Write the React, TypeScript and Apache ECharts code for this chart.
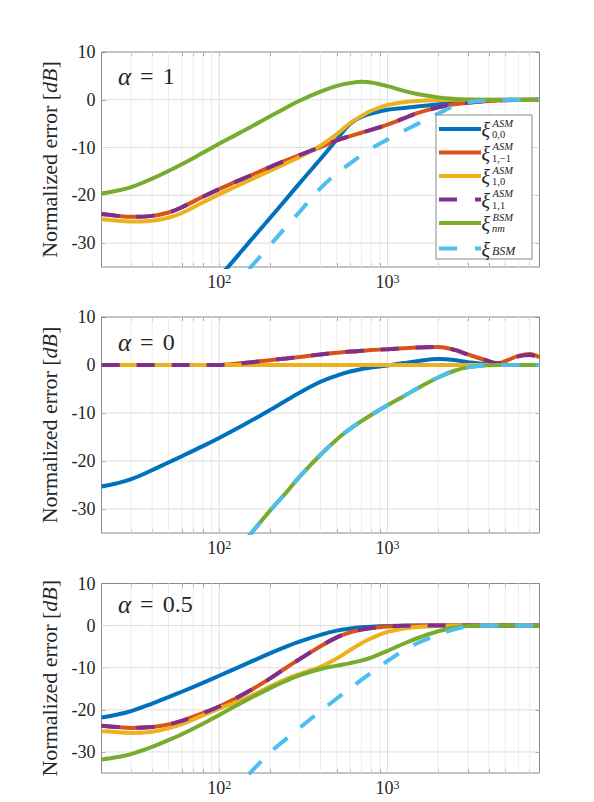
import React, { useEffect, useRef } from "react";
import * as echarts from "echarts";

// ---------- data ----------
const FREQ = [20, 25, 30, 40, 50, 60, 80, 100, 125, 150, 200, 250, 300, 400, 500, 600, 700, 800, 1000, 1250, 1500, 2000, 2500, 3000, 4000, 4500, 5000, 6000, 7000, 8000];
const N = null;

// alpha = 1
const A1_X00 = [N, N, N, N, N, N, N, -37.1, -33.2, -29.9, -24.8, -20.8, -17.5, -12.4, -8.3, -5.0, -3.6, -2.9, -2.1, -1.7, -1.4, -0.95, -0.55, -0.35, -0.12, -0.07, -0.03, 0, 0, 0];
const A1_X1M1 = [-23.9, -24.3, -24.5, -24.3, -23.6, -22.5, -20.3, -18.7, -17.2, -16.0, -14.1, -12.7, -11.6, -9.9, -8.5, -7.6, -6.9, -6.3, -5.2, -3.9, -2.8, -1.6, -0.95, -0.6, -0.25, -0.15, -0.1, -0.03, 0, 0];
const A1_X10 = [-25.0, -25.3, -25.5, -25.3, -24.7, -23.7, -21.5, -19.8, -18.2, -16.9, -14.9, -13.3, -12.0, -9.6, -7.2, -4.9, -3.4, -2.3, -1.1, -0.5, -0.25, -0.07, 0, 0, 0, 0, 0, 0, 0, 0];
const A1_X11 = [-23.9, -24.3, -24.5, -24.3, -23.6, -22.5, -20.3, -18.7, -17.2, -16.0, -14.1, -12.7, -11.6, -9.9, -8.5, -7.6, -6.9, -6.3, -5.2, -3.9, -2.8, -1.6, -0.95, -0.6, -0.25, -0.15, -0.1, -0.03, 0, 0];
const A1_NM = [-19.6, -19.0, -18.3, -16.5, -14.9, -13.5, -11.1, -9.2, -7.4, -5.9, -3.5, -1.65, -0.2, 1.7, 2.9, 3.5, 3.75, 3.6, 2.85, 1.85, 1.2, 0.5, 0.18, 0.06, 0, 0, 0, 0, 0, 0];
const A1_BSM = [N, N, N, N, N, N, N, N, N, -35.5, -30.5, -26.6, -23.5, -18.5, -15.4, -13.3, -11.6, -10.2, -8.3, -6.5, -5.1, -2.9, -1.3, -0.55, -0.1, -0.03, 0, 0, 0, 0];

// alpha = 0
const A0_X00 = [-25.3, -24.6, -23.8, -21.9, -20.3, -19.0, -16.9, -15.2, -13.4, -11.9, -9.4, -7.4, -5.8, -3.5, -2.2, -1.35, -0.85, -0.55, -0.1, 0.4, 0.8, 1.25, 1.05, 0.6, 0.08, 0.02, 0, 0, 0, 0];
const A0_X1M1 = [0, 0, 0, 0, 0, 0, 0, 0.02, 0.25, 0.5, 1.0, 1.35, 1.65, 2.2, 2.55, 2.8, 2.95, 3.1, 3.3, 3.5, 3.65, 3.75, 3.15, 2.2, 0.8, 0.35, 0.8, 1.9, 2.3, 1.6];
const A0_X10 = [0, 0, 0, 0, 0, 0, 0, 0, 0, 0, 0, 0, 0, 0, 0, 0, 0, 0, 0, 0, 0, 0, 0, 0, 0, 0, 0, 0, 0, 0];
const A0_X11 = [0, 0, 0, 0, 0, 0, 0, 0.02, 0.25, 0.5, 1.0, 1.35, 1.65, 2.2, 2.55, 2.8, 2.95, 3.1, 3.3, 3.5, 3.65, 3.75, 3.15, 2.2, 0.8, 0.35, 0.8, 1.8, 2.1, 1.4];
const A0_NM = [N, N, N, N, N, N, N, N, N, -35.7, -30.4, -26.6, -23.3, -18.7, -15.5, -13.3, -11.7, -10.4, -8.4, -6.5, -4.9, -2.6, -1.2, -0.5, -0.05, 0, 0, 0, 0, 0];
const A0_BSM = [N, N, N, N, N, N, N, N, N, -35.7, -30.4, -26.6, -23.3, -18.7, -15.5, -13.3, -11.7, -10.4, -8.4, -6.5, -4.9, -2.6, -1.2, -0.5, -0.05, 0, 0, 0, 0, 0];

// alpha = 0.5
const A5_X00 = [-21.8, -21.1, -20.3, -18.5, -17.0, -15.7, -13.6, -11.9, -10.2, -8.8, -6.6, -5.0, -3.8, -2.2, -1.2, -0.7, -0.4, -0.25, -0.1, -0.03, 0, 0, 0, 0, 0, 0, 0, 0, 0, 0];
const A5_X1M1 = [-23.8, -24.1, -24.3, -24.1, -23.5, -22.6, -20.8, -19.2, -17.3, -15.6, -12.6, -10.0, -8.0, -4.9, -2.8, -1.6, -0.95, -0.55, -0.2, -0.06, 0, 0, 0, 0, 0, 0, 0, 0, 0, 0];
const A5_X10 = [-25.1, -25.3, -25.5, -25.2, -24.4, -23.4, -21.3, -19.7, -18.2, -16.9, -14.5, -12.7, -11.5, -9.8, -7.8, -5.8, -4.2, -3.0, -1.5, -0.7, -0.35, -0.1, -0.02, 0, 0, 0, 0, 0, 0, 0];
const A5_X11 = [-23.8, -24.1, -24.3, -24.1, -23.5, -22.6, -20.8, -19.2, -17.3, -15.6, -12.6, -10.0, -8.0, -4.9, -2.8, -1.6, -0.95, -0.55, -0.2, -0.06, 0, 0, 0, 0, 0, 0, 0, 0, 0, 0];
const A5_NM = [-31.8, -31.2, -30.5, -28.8, -27.2, -25.8, -23.3, -21.2, -19.1, -17.4, -14.9, -13.1, -11.8, -10.3, -9.5, -8.9, -8.3, -7.6, -6.0, -4.3, -3.0, -1.35, -0.45, -0.1, 0, 0, 0, 0, 0, 0];
const A5_BSM = [N, N, N, N, N, N, N, N, N, -35.3, -30.2, -26.9, -24.3, -20.3, -17.3, -14.9, -12.9, -11.2, -8.4, -5.9, -4.2, -2.2, -0.9, -0.25, 0, 0, 0, 0, 0, 0];

const PANELS = [
  { label: "1", series: [A1_X00, A1_X1M1, A1_X10, A1_X11, A1_NM, A1_BSM] },
  { label: "0", series: [A0_X00, A0_X1M1, A0_X10, A0_X11, A0_NM, A0_BSM] },
  { label: "0.5", series: [A5_X00, A5_X1M1, A5_X10, A5_X11, A5_NM, A5_BSM] },
];

const SERIES_NAMES = ["ξ_{0,0}^{ASM}", "ξ_{1,-1}^{ASM}", "ξ_{1,0}^{ASM}", "ξ_{1,1}^{ASM}", "ξ_{nm}^{BSM}", "ξ_{BSM}"];
const SERIES_COLORS = ["#0072BD", "#D95319", "#EDB120", "#7E2F8E", "#77AC30", "#4DBEEE"];
const SERIES_DASHED = [false, false, false, true, false, true];
const LEG_SUP = ["ASM", "ASM", "ASM", "ASM", "BSM", ""];
const LEG_SUB = ["0,0", "1,\u22121", "1,0", "1,1", "nm", "BSM"];
const LEG_SUB_ITALIC = [false, false, false, false, true, true];

const X_MIN = 20;
const X_MAX = 8000;
const Y_MIN = -35;
const Y_MAX = 10;
const Y_TICKS = [-30, -20, -10, 0, 10];
const X_MAJOR = [100, 1000];
const X_MINOR = [30, 40, 50, 60, 70, 80, 90, 200, 300, 400, 500, 600, 700, 800, 900, 2000, 3000, 4000, 5000, 6000, 7000];
const Y_NAME = "Normalized error [{i|dB}]";

// ---------- layout / style ----------
const GRIDS = [
  { left: 101.5, top: 52, width: 438, height: 215 },
  { left: 101.5, top: 317, width: 438, height: 216 },
  { left: 101.5, top: 583.5, width: 438, height: 189.5 },
];
const ALPHA_POS = [76, 342, 604];
const LEG_BOX = { x: 436, y: 115, w: 96, h: 144 };
const LEG_ROWS = [129, 152.5, 176, 199.5, 223, 248.5];
const FONT = "Liberation Serif, serif";
const TXT = "#262626";
const BOX = "#8a8a8a";
const MAJOR_GRID = "#dedede";
const MINOR_GRID = "#eeeeee";
const DASH = [18, 17];
const LW = 4;

const lg = (v: number) => Math.log10(v);

function buildOption() {
  const grid: any[] = [];
  const xAxis: any[] = [];
  const yAxis: any[] = [];
  const series: any[] = [];
  const xTicks = [...X_MINOR, ...X_MAJOR].map(lg);
  const tickStyle = { color: BOX, width: 1 };

  PANELS.forEach((p, i) => {
    grid.push({ ...GRIDS[i], show: true, borderColor: BOX, borderWidth: 1, backgroundColor: "#fff", containLabel: false });
    const xb = {
      type: "value", gridIndex: i, min: lg(X_MIN), max: lg(X_MAX), scale: true,
      axisLine: { show: false, onZero: false },
      axisTick: { show: true, inside: true, length: 4, customValues: xTicks, lineStyle: tickStyle },
      splitLine: { show: false },
    };
    xAxis.push({
      ...xb, position: "bottom",
      axisLabel: {
        show: true, customValues: X_MAJOR.map(lg), margin: 6, color: TXT, fontFamily: FONT, fontSize: 18,
        formatter: (v: number) => `10{s|${Math.round(v)}}`,
        rich: { s: { fontSize: 12, fontFamily: FONT, color: TXT, verticalAlign: "top", lineHeight: 12 } },
      },
    });
    xAxis.push({ ...xb, position: "top", axisLabel: { show: false } });
    const yb = {
      type: "value", gridIndex: i, min: Y_MIN, max: Y_MAX,
      axisLine: { show: false, onZero: false },
      axisTick: { show: true, inside: true, length: 4, customValues: Y_TICKS, lineStyle: tickStyle },
      splitLine: { show: false },
    };
    yAxis.push({
      ...yb, position: "left",
      axisLabel: { show: true, customValues: Y_TICKS, margin: 6, color: TXT, fontFamily: FONT, fontSize: 18 },
      name: Y_NAME, nameLocation: "middle", nameGap: 30,
      nameTextStyle: {
        color: TXT, fontFamily: FONT, fontSize: 22,
        rich: { i: { fontStyle: "italic", fontFamily: FONT, fontSize: 22, color: TXT } },
      },
    });
    yAxis.push({ ...yb, position: "right", axisLabel: { show: false } });

    const xi = 2 * i;
    series.push({
      type: "custom", xAxisIndex: xi, yAxisIndex: xi, silent: true, z: 1, clip: false,
      data: [...X_MINOR.map((f) => [lg(f), 0]), ...X_MAJOR.map((f) => [lg(f), 1])],
      renderItem: (_params: any, api: any) => {
        const x = api.value(0);
        const major = api.value(1) === 1;
        const a = api.coord([x, Y_MIN]);
        const b = api.coord([x, Y_MAX]);
        return { type: "line", shape: { x1: a[0], y1: a[1], x2: b[0], y2: b[1] }, style: { stroke: major ? MAJOR_GRID : MINOR_GRID, lineWidth: 1 } };
      },
    });
    series.push({
      type: "custom", xAxisIndex: xi, yAxisIndex: xi, silent: true, z: 1, clip: false,
      data: Y_TICKS.filter((v) => v < Y_MAX).map((v) => [lg(X_MIN), v]),
      renderItem: (_params: any, api: any) => {
        const y = api.value(1);
        const a = api.coord([lg(X_MIN), y]);
        const b = api.coord([lg(X_MAX), y]);
        return { type: "line", shape: { x1: a[0], y1: a[1], x2: b[0], y2: b[1] }, style: { stroke: MAJOR_GRID, lineWidth: 1 } };
      },
    });

    p.series.forEach((vals, k) => {
      const data = FREQ.map((f, j) => [lg(f), vals[j]]).filter((d) => d[1] !== null);
      series.push({
        type: "line", name: SERIES_NAMES[k], xAxisIndex: xi, yAxisIndex: xi, data,
        symbol: "none", showSymbol: false, smooth: 0.4, clip: true, silent: true, z: 2,
        lineStyle: { color: SERIES_COLORS[k], width: LW, type: SERIES_DASHED[k] ? DASH : "solid", cap: "butt" },
        itemStyle: { color: SERIES_COLORS[k] },
      });
    });
  });

  const graphic: any[] = [];
  PANELS.forEach((p, i) => {
    graphic.push({
      type: "text", z: 100, x: 118, y: ALPHA_POS[i],
      style: {
        text: `{a|α}{e|=}{n|${p.label}}`,
        fill: TXT, fontFamily: FONT, fontSize: 24,
        verticalAlign: "middle", textVerticalAlign: "middle",
        rich: {
          a: { fontStyle: "italic", fontFamily: FONT, fontSize: 25, fill: TXT, color: TXT },
          e: { fontFamily: FONT, fontSize: 24, fill: TXT, color: TXT, padding: [0, 9, 0, 9] },
          n: { fontFamily: FONT, fontSize: 24, fill: TXT, color: TXT },
        },
      },
    });
  });
  graphic.push({
    type: "rect", z: 100,
    shape: { x: LEG_BOX.x, y: LEG_BOX.y, width: LEG_BOX.w, height: LEG_BOX.h },
    style: { fill: "#fff", stroke: BOX, lineWidth: 1 },
  });
  SERIES_NAMES.forEach((_n, k) => {
    const y = LEG_ROWS[k];
    graphic.push({
      type: "line", z: 101,
      shape: { x1: LEG_BOX.x + 3, y1: y, x2: LEG_BOX.x + 45, y2: y },
      style: { stroke: SERIES_COLORS[k], lineWidth: LW, lineDash: SERIES_DASHED[k] ? [18, 18] : null, lineCap: "butt" },
    });
    const hasSup = LEG_SUP[k] !== "";
    graphic.push({
      type: "text", z: 101, x: 481.5, y: y + 1,
      style: { text: "ξ", fill: TXT, fontFamily: FONT, fontSize: 20, fontStyle: "italic", verticalAlign: "middle", textVerticalAlign: "middle" },
    });
    if (hasSup) {
      graphic.push({
        type: "text", z: 101, x: 492.5, y: y - 5.9,
        style: { text: LEG_SUP[k], fill: TXT, fontFamily: FONT, fontSize: 10.5, fontStyle: "italic", verticalAlign: "middle", textVerticalAlign: "middle" },
      });
    }
    graphic.push({
      type: "text", z: 101, x: 492, y: hasSup ? y + 5.9 : y + 2,
      style: { text: LEG_SUB[k], fill: TXT, fontFamily: FONT, fontSize: hasSup ? 10.5 : 12, fontStyle: LEG_SUB_ITALIC[k] ? "italic" : "normal", verticalAlign: "middle", textVerticalAlign: "middle" },
    });
  });

  return {
    animation: false,
    backgroundColor: "#fff",
    textStyle: { fontFamily: FONT },
    grid, xAxis, yAxis, series, graphic,
  };
}

export default function App() {
  const ref = useRef<HTMLDivElement>(null);
  useEffect(() => {
    if (!ref.current) return;
    const chart = echarts.init(ref.current, null, { renderer: "svg" });
    chart.setOption(buildOption() as any);
    return () => chart.dispose();
  }, []);
  return <div ref={ref} style={{ position: "fixed", left: 0, top: 0, width: 594, height: 802, background: "#fff" }} />;
}
